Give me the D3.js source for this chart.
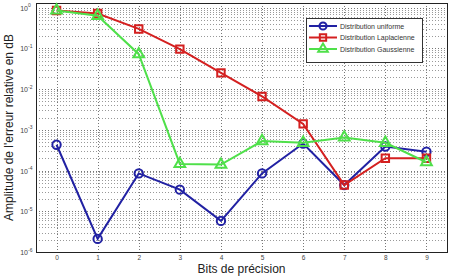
<!DOCTYPE html>
<html>
<head>
<meta charset="utf-8">
<script src="https://cdn.jsdelivr.net/npm/d3@7"></script>
<style>
body { margin: 0; background: #fff; }
text { font-family: "Liberation Sans", Arial, sans-serif; }
</style>
</head>
<body>
<div id="chart"></div>
<script>
var bits = [0, 1, 2, 3, 4, 5, 6, 7, 8, 9];
var uniforme = [4.3e-4, 2.1e-6, 8.5e-5, 3.4e-5, 5.8e-6, 8.5e-5, 4.6e-4, 4.4e-5, 3.9e-4, 2.9e-4];
var laplacienne = [0.85, 0.72, 0.30, 0.096, 0.025, 6.6e-3, 1.4e-3, 4.4e-5, 2.0e-4, 2.0e-4];
var gaussienne = [0.85, 0.63, 0.072, 1.45e-4, 1.4e-4, 5.3e-4, 4.8e-4, 6.5e-4, 4.8e-4, 1.6e-4];
var yDecades = [-6, -5, -4, -3, -2, -1, 0];
var seriesNames = ["Distribution uniforme", "Distribution Laplacienne", "Distribution Gaussienne"];

function draw() {
    var w = 454, h = 276;
    var left = 36, right = 447, top = 3, bottom = 252;
    var svg = d3.select("#chart").append("svg")
	.attr("width", w)
	.attr("height", h);

    var x = d3.scaleLinear().domain([-0.5, 9.5]).range([left, right]);
    var y = d3.scaleLog().domain([1e-6, 1.3]).range([bottom, top]);

    // grid
    var grid = svg.append("g");
    yDecades.forEach(function(d) {
	for (var m = 1; m <= 9; m++) {
	    var v = m * Math.pow(10, d);
	    if (v > 1.3) continue;
	    grid.append("line")
		.attr("x1", left).attr("x2", right)
		.attr("y1", Math.round(y(v)) + 0.5).attr("y2", Math.round(y(v)) + 0.5)
		.attr("stroke", m == 1 ? "#777" : "#999")
		.attr("stroke-width", 1)
		.attr("stroke-dasharray", "1,2");
	}
    });
    bits.forEach(function(b) {
	grid.append("line")
	    .attr("x1", Math.round(x(b)) + 0.5).attr("x2", Math.round(x(b)) + 0.5)
	    .attr("y1", top).attr("y2", bottom)
	    .attr("stroke", "#777")
	    .attr("stroke-dasharray", "1,2");
    });

    // frame
    svg.append("rect")
	.attr("x", left + 0.5).attr("y", top + 0.5)
	.attr("width", right - left).attr("height", bottom - top)
	.attr("fill", "none").attr("stroke", "#222").attr("stroke-width", 1);

    // x ticks
    var xAxis = d3.axisBottom(x).tickValues(bits).tickSize(0).tickPadding(3);
    var gx = svg.append("g").attr("transform", "translate(0," + bottom + ")").call(xAxis);
    gx.select(".domain").remove();
    gx.selectAll("text").attr("font-size", 6.5).attr("fill", "#444")
	.style("font-family", "Liberation Sans, Arial, sans-serif");

    // y ticks
    var ty = svg.append("g");
    yDecades.forEach(function(d) {
	ty.append("text")
	    .attr("x", left - 8)
	    .attr("y", y(Math.pow(10, d)) + 3)
	    .attr("text-anchor", "end")
	    .attr("font-size", 7)
	    .attr("fill", "#444")
	    .text("10");
	ty.append("text")
	    .attr("x", left - 8)
	    .attr("y", y(Math.pow(10, d)) - 0.5)
	    .attr("font-size", 5)
	    .attr("fill", "#444")
	    .text(d);
    });

    // labels
    svg.append("text")
	.attr("x", (left + right) / 2).attr("y", 272.5)
	.attr("text-anchor", "middle")
	.attr("font-size", 12).attr("fill", "#222")
	.text("Bits de précision");
    svg.append("text")
	.attr("transform", "translate(13," + ((top + bottom) / 2) + ") rotate(-90)")
	.attr("text-anchor", "middle")
	.attr("font-size", 12).attr("fill", "#222")
	.text("Amplitude de l'erreur relative en dB");

    var series = [
	{ name: seriesNames[0], values: uniforme, color: "#2121a3", sym: d3.symbolCircle },
	{ name: seriesNames[1], values: laplacienne, color: "#d42020", sym: d3.symbolSquare },
	{ name: seriesNames[2], values: gaussienne, color: "#4fe04a", sym: d3.symbolTriangle }
    ];
    var line = d3.line().x(function(d, i) { return x(bits[i]); }).y(function(d) { return y(d); });

    series.forEach(function(s) {
	svg.append("path")
	    .attr("d", line(s.values))
	    .attr("fill", "none")
	    .attr("stroke", s.color)
	    .attr("stroke-width", 2);
	svg.selectAll(null).data(s.values).enter().append("path")
	    .attr("transform", function(d, i) { return "translate(" + x(bits[i]) + "," + y(d) + ")"; })
	    .attr("d", d3.symbol().type(s.sym).size(s.sym == d3.symbolTriangle ? 50 : 55))
	    .attr("fill", "none")
	    .attr("stroke", s.color)
	    .attr("stroke-width", 2);
    });

    // legend
    var lg = svg.append("g");
    lg.append("rect")
	.attr("x", 306.5).attr("y", 18.5).attr("width", 116).attr("height", 44)
	.attr("fill", "#fff").attr("stroke", "#333");
    series.forEach(function(s, i) {
	var ly = 26 + i * 11.5;
	lg.append("line")
	    .attr("x1", 309).attr("x2", 337).attr("y1", ly).attr("y2", ly)
	    .attr("stroke", s.color).attr("stroke-width", 2);
	lg.append("path")
	    .attr("transform", "translate(323," + ly + ")")
	    .attr("d", d3.symbol().type(s.sym).size(40))
	    .attr("fill", "none").attr("stroke", s.color).attr("stroke-width", 2);
	lg.append("text")
	    .attr("x", 340).attr("y", ly + 2.5)
	    .attr("font-size", 7).attr("fill", "#333")
	    .text(s.name);
    });
}

draw();
</script>
</body>
</html>
